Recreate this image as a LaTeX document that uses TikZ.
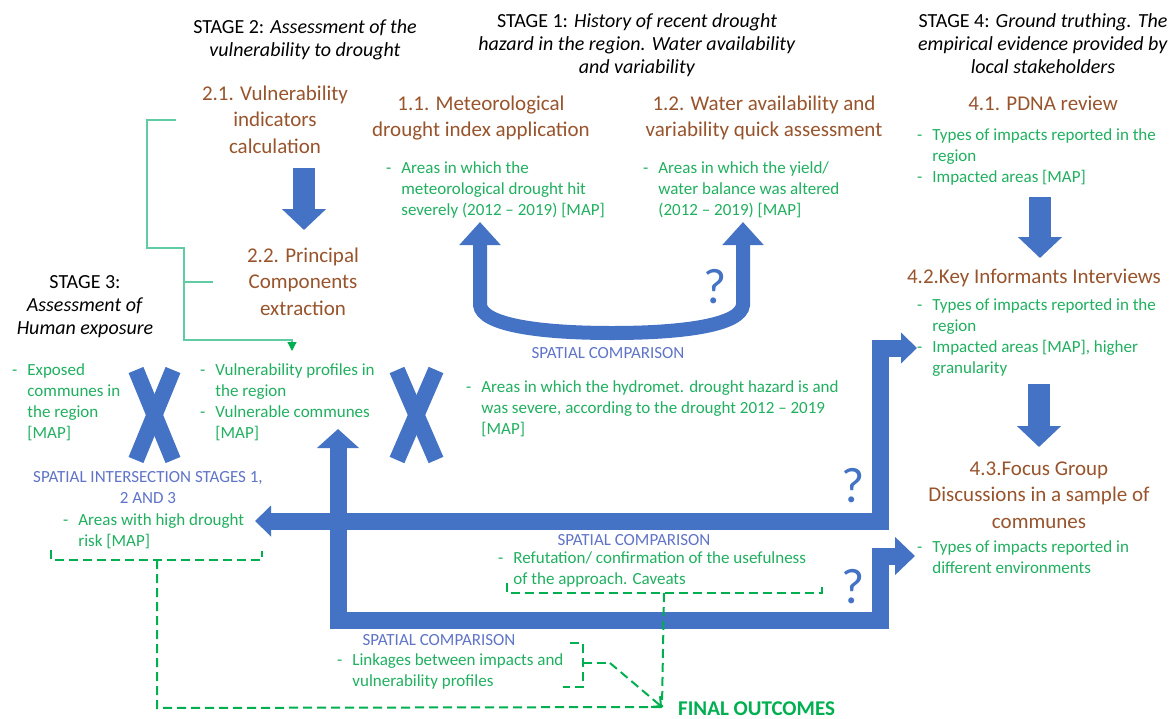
\documentclass[tikz,border=0pt]{standalone}
\usepackage{fontspec}
\setmainfont{Carlito}
\usetikzlibrary{arrows.meta}

\definecolor{cBlue}{RGB}{68,114,196}
\definecolor{cBrown}{RGB}{152,84,44}
\definecolor{cGreen}{RGB}{32,176,96}
\definecolor{cLbl}{RGB}{96,116,200}
\definecolor{cMint}{RGB}{96,204,164}
\definecolor{cDash}{RGB}{0,176,80}

\newcommand{\gList}[1]{\begin{tabular}[t]{@{}l@{\hspace{10pt}}l@{}}#1\end{tabular}}
\newcommand{\cLines}[1]{\begin{tabular}[t]{@{}c@{}}#1\end{tabular}}

\tikzstyle{sT}=[inner sep=0pt, anchor=base, font=\fontsize{20}{23}\selectfont]
\tikzstyle{hT}=[inner sep=0pt, anchor=base, text=cBrown, font=\fontsize{21}{26.5}\selectfont]
\tikzstyle{gT}=[inner sep=0pt, anchor=base west, text=cGreen, font=\fontsize{17}{21}\selectfont]
\tikzstyle{lT}=[inner sep=0pt, anchor=base, text=cLbl, font=\fontsize{17}{21}\selectfont]
\tikzstyle{qT}=[inner sep=0pt, anchor=base, text=cBlue, font=\fontsize{50}{50}\selectfont]
\tikzstyle{fT}=[inner sep=0pt, anchor=base west, text=cDash, font=\fontsize{21}{25}\selectfont\bfseries]
\tikzstyle{bA}=[draw=cBlue, line width=22pt, -{Triangle[width=43pt,length=21pt]}]
\tikzstyle{bU}=[draw=cBlue, line width=14pt, {Triangle[width=40pt,length=23pt]}-{Triangle[width=40pt,length=23pt]}]
\tikzstyle{bL}=[draw=cBlue, line width=17pt]
\tikzstyle{bX}=[draw=cBlue, line width=16pt]
\tikzstyle{mS}=[draw=cMint, line width=1.2pt]
\tikzstyle{dS}=[draw=cDash, line width=2pt, dash pattern=on 9pt off 5pt]

\begin{document}
\begin{tikzpicture}[x=1pt,y=-1pt]
    \useasboundingbox[fill=white] (0,0) rectangle (1176,718);

    % stage headers
    \draw (305,33) node[sT] (s2) {\cLines{STAGE 2: \textit{Assessment of the}\\ \textit{vulnerability to drought}}};
    \draw (637,27) node[sT] (s1) {\cLines{STAGE 1: \textit{History of recent drought}\\ \textit{hazard in the region. Water availability}\\ \textit{and variability}}};
    \draw (1043,27) node[sT] (s4) {\cLines{STAGE 4: \textit{Ground truthing. The}\\ \textit{empirical evidence provided by}\\ \textit{local stakeholders}}};
    \draw (85,288) node[sT] (s3) {\cLines{STAGE 3:\\ \textit{Assessment of}\\ \textit{Human exposure}}};

    % steps
    \draw (275,100) node[hT] (n21) {\cLines{2.1. Vulnerability\\ indicators\\ calculation}};
    \draw (303,262) node[hT] (n22) {\cLines{2.2. Principal\\ Components\\ extraction}};
    \draw (481,110) node[hT] (n11) {\cLines{1.1. Meteorological\\ drought index application}};
    \draw (764,110) node[hT] (n12) {\cLines{1.2. Water availability and\\ variability quick assessment}};
    \draw (1043,110) node[hT] (n41) {4.1. PDNA review};
    \draw (1034,283) node[hT] (n42) {4.2.Key Informants Interviews};
    \draw (1039,475) node[hT] (n43) {\cLines{4.3.Focus Group\\ Discussions in a sample of\\ communes}};

    % outputs
    \draw (386,173) node[gT] (g11) {\gList{- & Areas in which the\\ & meteorological drought hit\\ & severely (2012 -- 2019) [MAP]}};
    \draw (643,173) node[gT] (g12) {\gList{- & Areas in which the yield/\\ & water balance was altered\\ & (2012 -- 2019) [MAP]}};
    \draw (917,140) node[gT] (g41) {\gList{- & Types of impacts reported in the\\ & region\\ - & Impacted areas [MAP]}};
    \draw (917,310) node[gT] (g42) {\gList{- & Types of impacts reported in the\\ & region\\ - & Impacted areas [MAP], higher\\ & granularity}};
    \draw (917,552) node[gT] (g43) {\gList{- & Types of impacts reported in\\ & different environments}};
    \draw (200,375) node[gT] (g2) {\gList{- & Vulnerability profiles in\\ & the region\\ - & Vulnerable communes\\ & [MAP]}};
    \draw (12,375) node[gT] (g3) {\gList{- & Exposed\\ & communes in\\ & the region\\ & [MAP]}};
    \draw (466,392) node[gT] (gh) {\gList{- & Areas in which the hydromet. drought hazard is and\\ & was severe, according to the drought 2012 -- 2019\\ & [MAP]}};
    \draw (63,525) node[gT] (gr) {\gList{- & Areas with high drought\\ & risk [MAP]}};
    \draw (498,563) node[gT] (gc) {\gList{- & Refutation/ confirmation of the usefulness\\ & of the approach. Caveats}};
    \draw (337,665) node[gT] (gl) {\gList{- & Linkages between impacts and\\ & vulnerability profiles}};

    % comparison labels
    \draw (608,358) node[lT] (l1) {SPATIAL COMPARISON};
    \draw (148,482) node[lT] (l2) {\cLines{SPATIAL INTERSECTION STAGES 1,\\ 2 AND 3}};
    \draw (634,545) node[lT] (l3) {SPATIAL COMPARISON};
    \draw (439,645) node[lT] (l4) {SPATIAL COMPARISON};
    \draw (678,715) node[fT] (fo) {FINAL OUTCOMES};

    \draw (715,303) node[qT] (q1) {?};
    \draw (853,502) node[qT] (q2) {?};
    \draw (853,603) node[qT] (q3) {?};

    % blue arrows
    \coordinate (a21) at (304,168);
    \coordinate (a22) at (304,230);
    \coordinate (a41) at (1040,197);
    \coordinate (a42) at (1040,258);
    \coordinate (a42b) at (1039,384);
    \coordinate (a43) at (1039,447);
    \draw[bA] (a21) -- (a22);
    \draw[bA] (a41) -- (a42);
    \draw[bA] (a42b) -- (a43);

    \coordinate (u1) at (480,222);
    \coordinate (u2) at (743,222);
    \draw[bU] (u1) -- (480,305) .. controls (482,325) and (540,333) .. (612,333)
        .. controls (684,333) and (741,325) .. (743,305) -- (u2);

    \coordinate (bx) at (880,0);
    \coordinate (ay) at (0,620);
    \coordinate (b1) at (255,521);
    \coordinate (b2) at (917,348);
    \coordinate (a1) at (338,429);
    \coordinate (a2) at (915,556);
    \draw[bL, {Triangle[width=30pt,length=16pt]}-{Triangle[width=30pt,length=16pt]}]
        (b1) -- (b1 -| bx) -- (bx |- b2) -- (b2);
    \draw[bL, {Triangle[width=41pt,length=19pt]}-{Triangle[width=37pt,length=20pt]}]
        (a1) -- (a1 |- ay) -- (ay -| bx) -- (bx |- a2) -- (a2);

    \draw[bX] (136,370) -- (173,460);
    \draw[bX] (173,370) -- (136,460);
    \draw[bX] (397,370) -- (436,460);
    \draw[bX] (436,370) -- (397,460);

    % bracket stage 2
    \coordinate (m1) at (176,120);
    \coordinate (m2) at (213,282);
    \draw[mS, -{Triangle[width=9pt,length=9pt,color=cDash]}]
        (m1) -- (147,120) -- (147,248) -- (184,248) -- (184,340) -- (292,340) -- (292,351);
    \draw[mS] (184,282) -- (m2);

    % dashed links to final outcomes
    \coordinate (fin) at (662,707);
    \draw[dS] (51,550) -- (51,560) -- (262,560) -- (262,551);
    \draw[dS] (157,560) -- (157,708) -- (fin);
    \draw[dS] (507,583) -- (507,593) -- (822,593) -- (822,583);
    \draw[dS] (664,593) -- (fin);
    \draw[dS] (570,643) -- (583,643) -- (583,687) -- (563,687);
    \draw[dS] (583,663) -- (610,663);
    \draw[dS, -{Straight Barb[width=14pt,length=7pt]}] (610,663) -- (fin);
\end{tikzpicture}
\end{document}
